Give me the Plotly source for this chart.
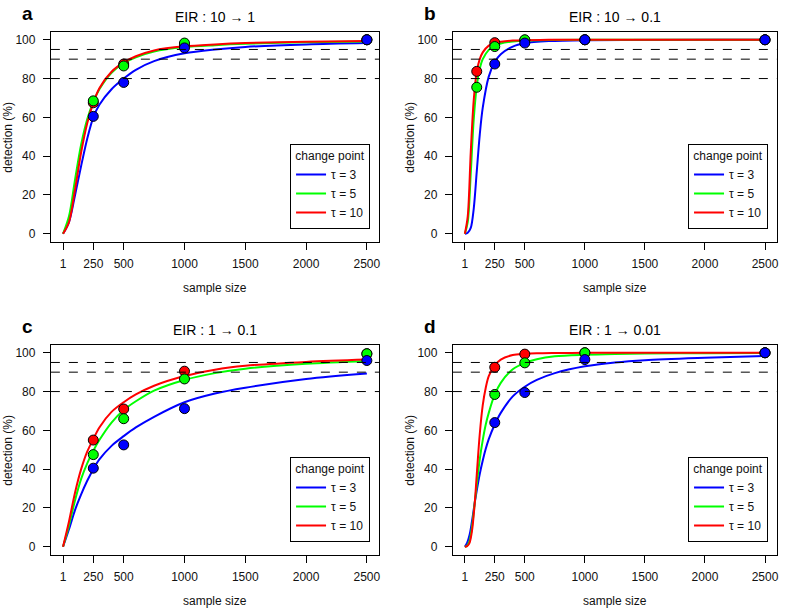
import plotly.graph_objects as go

W, H = 785, 608

# ---------------- data ----------------
SAMPLE_TICKS = [1, 250, 500, 1000, 1500, 2000, 2500]
Y_TICKS = [0, 20, 40, 60, 80, 100]
THRESHOLDS = [80, 90, 95]
TAU_LABELS = ["τ = 3", "τ = 5", "τ = 10"]
COLORS = ["#0000FF", "#00FF00", "#FF0000"]
TITLES = ["EIR : 10 → 1", "EIR : 10 → 0.1", "EIR : 1 → 0.1", "EIR : 1 → 0.01"]
LETTERS = ["a", "b", "c", "d"]

# panel a
A_CURVE_N = [1, 50, 100, 150, 200, 250, 300, 400, 500, 600, 750, 1000, 1250, 1500, 2000, 2500]
A_TAU3 = [0, 6, 20, 35, 49, 60, 66.5, 74.5, 80, 84.5, 89, 93, 95, 96.3, 97.6, 98.3]
A_TAU5 = [0, 9, 28, 46, 59, 68, 74.5, 83, 88, 91, 94, 96.2, 97.2, 97.9, 98.7, 99.1]
A_TAU10 = [0, 6, 23, 42, 57, 67.5, 75, 83.5, 88.3, 91.5, 94.5, 96.6, 97.6, 98.3, 99, 99.4]
A_PTS_N3 = [250, 500, 1000, 2500]
A_PTS_N5 = [250, 500, 1000, 2500]
A_PTS_N10 = [250, 500, 1000, 2500]
A_PTS_TAU3 = [60.5, 78, 95.8, 100]
A_PTS_TAU5 = [68.5, 86.5, 98.3, 100]
A_PTS_TAU10 = [67.5, 87.5, 97.5, 100]

# panel b
B_CURVE_N = [1, 25, 50, 75, 100, 125, 150, 200, 250, 300, 400, 500, 700, 1000, 2500]
B_TAU3 = [0, 0.5, 3, 13, 32, 51, 65, 81, 88.5, 92.5, 96.5, 98.2, 99.3, 99.8, 100]
B_TAU5 = [0, 6, 31, 59, 76, 85, 90, 94.8, 97, 98.1, 99.1, 99.6, 99.9, 100, 100]
B_TAU10 = [0, 9, 42, 69, 83.5, 90, 93.5, 97, 98.4, 99, 99.6, 99.8, 99.95, 100, 100]
B_PTS_N3 = [250, 500, 1000, 2500]
B_PTS_N5 = [100, 250, 500, 1000, 2500]
B_PTS_N10 = [100, 250, 500, 1000, 2500]
B_PTS_TAU3 = [87.5, 98.3, 100, 100]
B_PTS_TAU5 = [75.5, 96.5, 100, 100, 100]
B_PTS_TAU10 = [83.7, 98.5, 99.8, 100, 100]

# panel c
C_CURVE_N = [1, 50, 100, 150, 200, 250, 300, 400, 500, 600, 750, 1000, 1250, 1500, 2000, 2500]
C_TAU3 = [0, 9, 19, 27, 34, 40, 45, 52, 57, 61.5, 67, 74.5, 79, 82, 86.5, 89.3]
C_TAU5 = [0, 11, 24, 35, 43, 49.5, 55, 64, 70.5, 75, 80.5, 86, 89.5, 91.8, 94.3, 95.8]
C_TAU10 = [0, 13, 28, 40, 49, 55.5, 61.5, 69.5, 74.5, 78.5, 83, 88, 91.3, 93.3, 95.3, 96.5]
C_PTS_N3 = [250, 500, 1000, 2500]
C_PTS_N5 = [250, 500, 1000, 2500]
C_PTS_N10 = [250, 500, 1000, 2500]
C_PTS_TAU3 = [40.5, 52.5, 71.2, 96]
C_PTS_TAU5 = [47.5, 66, 86.5, 99.5]
C_PTS_TAU10 = [55, 71, 90.5, 99.5]

# panel d
D_CURVE_N = [1, 20, 40, 60, 84, 100, 125, 150, 175, 200, 250, 300, 400, 500, 600, 750, 1000, 1250, 1500, 2000, 2500]
D_TAU3 = [0, 2, 6, 13, 23, 29, 37.5, 44.5, 50.5, 55.5, 63, 69, 77.5, 82.5, 86, 89.5, 93, 95, 96.2, 97.4, 98.3]
D_TAU5 = [0, 0.5, 3, 10, 23, 32, 45, 55, 63, 69, 78.5, 84.5, 91.5, 94.8, 96.7, 98.2, 99, 99.4, 99.6, 99.8, 99.9]
D_TAU10 = [0, 0.3, 2, 8, 23, 37, 58, 73, 82, 88, 93.5, 96.5, 98.8, 99.4, 99.7, 99.85, 99.95, 100, 100, 100, 100]
D_PTS_N3 = [250, 500, 1000, 2500]
D_PTS_N5 = [250, 500, 1000, 2500]
D_PTS_N10 = [250, 500, 1000, 2500]
D_PTS_TAU3 = [64, 79.5, 96.5, 100]
D_PTS_TAU5 = [78.5, 94.8, 100, 100]
D_PTS_TAU10 = [92.5, 99.3, 100, 100]

PANELS = [
    (A_CURVE_N, [A_TAU3, A_TAU5, A_TAU10], [A_PTS_N3, A_PTS_N5, A_PTS_N10], [A_PTS_TAU3, A_PTS_TAU5, A_PTS_TAU10]),
    (B_CURVE_N, [B_TAU3, B_TAU5, B_TAU10], [B_PTS_N3, B_PTS_N5, B_PTS_N10], [B_PTS_TAU3, B_PTS_TAU5, B_PTS_TAU10]),
    (C_CURVE_N, [C_TAU3, C_TAU5, C_TAU10], [C_PTS_N3, C_PTS_N5, C_PTS_N10], [C_PTS_TAU3, C_PTS_TAU5, C_PTS_TAU10]),
    (D_CURVE_N, [D_TAU3, D_TAU5, D_TAU10], [D_PTS_N3, D_PTS_N5, D_PTS_N10], [D_PTS_TAU3, D_PTS_TAU5, D_PTS_TAU10]),
]

# ---------------- layout (pixel boxes of the four plot regions) ----------------
BOXES = [(51, 380, 32, 241.5), (454, 779, 32, 241.5), (51, 380, 345, 554.5), (454, 779, 345, 554.5)]
FONT = "Arial, Liberation Sans, sans-serif"

fig = go.Figure()
layout = dict(width=W, height=H, margin=dict(l=0, r=0, t=0, b=0),
              paper_bgcolor="white", plot_bgcolor="white", showlegend=True,
              font=dict(family=FONT, size=12, color="#111"))
annotations = []
shapes = []

for i, (cn, curves, pn, pv) in enumerate(PANELS):
    k = "" if i == 0 else str(i + 1)
    xa, ya = "x" + k, "y" + k
    leg = "legend" + k
    x0, x1, y0, y1 = BOXES[i]
    # curves: tau3, tau5, tau10
    for j in range(3):
        fig.add_trace(go.Scatter(
            x=cn, y=curves[j], mode="lines", xaxis=xa, yaxis=ya,
            line=dict(color=COLORS[j], width=2, shape="spline", smoothing=0.9),
            name=TAU_LABELS[j], legend=leg, showlegend=True))
    # points drawn red, green, blue
    for j in [2, 1, 0]:
        fig.add_trace(go.Scatter(
            x=pn[j], y=pv[j], mode="markers", xaxis=xa, yaxis=ya,
            marker=dict(color=COLORS[j], size=10, line=dict(color="black", width=1)),
            showlegend=False, legend=leg))
    axis_common = dict(showline=True, linecolor="black", linewidth=1, mirror=True,
                       ticks="outside", ticklen=7, tickcolor="black", tickwidth=1,
                       showgrid=False, zeroline=False, tickfont=dict(size=12, color="#111"))
    layout["xaxis" + k] = dict(axis_common, domain=[x0 / W, x1 / W], range=[-99, 2600],
                               tickvals=SAMPLE_TICKS, ticktext=[str(v) for v in SAMPLE_TICKS],
                               anchor=ya, ticklabelstandoff=4)
    layout["yaxis" + k] = dict(axis_common, domain=[1 - y1 / H, 1 - y0 / H], range=[-4, 104],
                               tickvals=Y_TICKS, anchor=xa, ticklabelstandoff=5)
    layout[leg] = dict(x=(x1 - 9) / W, y=1 - (y1 - 13) / H, xanchor="right", yanchor="bottom",
                       xref="paper", yref="paper",
                       bgcolor="white", bordercolor="black", borderwidth=1,
                       font=dict(size=12, family=FONT, color="#111"),
                       title=dict(text="change point", side="top center", font=dict(size=12)),
                       tracegroupgap=0, itemwidth=30)
    for t in THRESHOLDS:
        shapes.append(dict(type="line", xref=xa + " domain", yref=ya, x0=0, x1=1, y0=t, y1=t,
                           line=dict(color="black", width=1, dash="dash")))
    cx = (x0 + x1) / 2
    cy = (y0 + y1) / 2
    annotations.append(dict(text=TITLES[i], x=cx / W, y=1 - (y0 - 15) / H, xref="paper", yref="paper",
                            showarrow=False, xanchor="center", yanchor="middle",
                            font=dict(size=14, color="black")))
    annotations.append(dict(text="<b>" + LETTERS[i] + "</b>", x=(x0 - 23) / W, y=1 - (y0 - 19) / H,
                            xref="paper", yref="paper", showarrow=False, xanchor="center",
                            yanchor="middle", font=dict(size=19, color="black")))
    annotations.append(dict(text="sample size", x=cx / W, y=1 - (y1 + 46) / H, xref="paper", yref="paper",
                            showarrow=False, xanchor="center", yanchor="middle",
                            font=dict(size=12, color="#111")))
    annotations.append(dict(text="detection (%)", x=(x0 - 43) / W, y=1 - cy / H, xref="paper", yref="paper",
                            showarrow=False, xanchor="center", yanchor="middle", textangle=-90,
                            font=dict(size=12, color="#111")))

layout["annotations"] = annotations
layout["shapes"] = shapes
fig.update_layout(**layout)
fig.write_html("out.html", config={"displayModeBar": False},
               post_script="document.body.style.margin='0';document.body.style.overflow='hidden';")
